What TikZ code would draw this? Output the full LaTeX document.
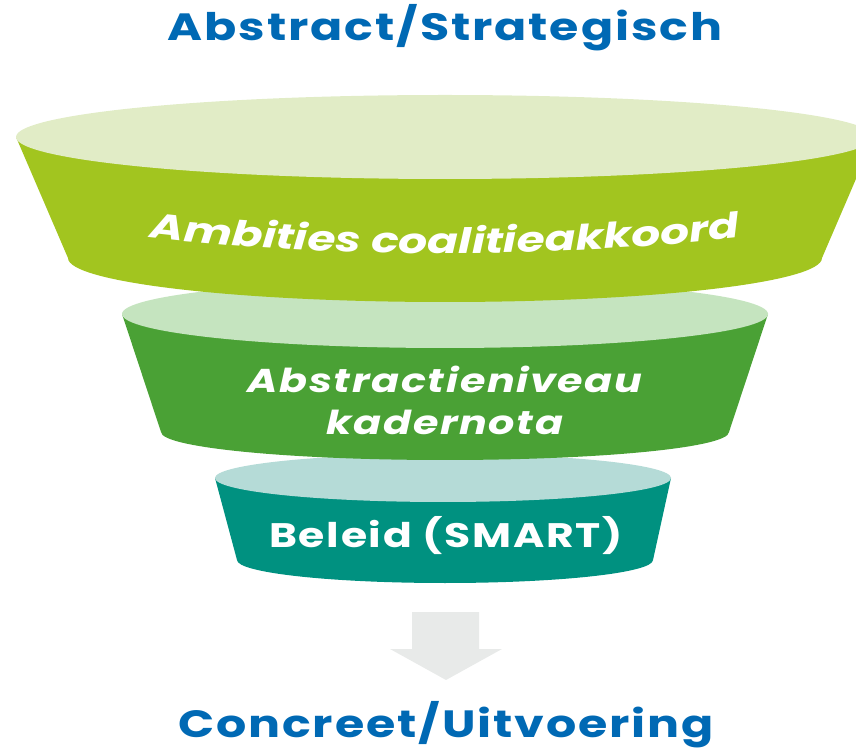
\documentclass[tikz,border=0pt]{standalone}
\usepackage{fontspec}
\newfontfamily\pop[FakeStretch=1.25, LetterSpace=5]{Poppins}
\newfontfamily\popc[FakeStretch=1.3]{Poppins}
\usetikzlibrary{decorations.text}
\definecolor{tblue}{RGB}{0,105,180}
\definecolor{topL}{RGB}{225,236,198}
\definecolor{topD}{RGB}{162,197,31}
\definecolor{midL}{RGB}{197,228,191}
\definecolor{midD}{RGB}{74,161,53}
\definecolor{botL}{RGB}{181,219,215}
\definecolor{botD}{RGB}{0,145,128}
\definecolor{arrowc}{RGB}{232,234,233}
\tikzset{
  title/.style={text=tblue, font=\pop\bfseries\fontsize{38}{40}\selectfont, inner sep=0pt, anchor=base},
  bowltext/.style={text=white, font=\pop\bfseries\itshape\fontsize{33}{42}\selectfont, align=center, inner sep=0pt},
}
\begin{document}
\begin{tikzpicture}[x=1pt,y=1pt]
\useasboundingbox (0,0) rectangle (856,750);
\begin{scope}
\clip (0,0) rectangle (856,750);
% bottom bowl
\fill[botD] (215,272) -- (237,190) arc[start angle=180,end angle=360,x radius=208,y radius=23] -- (671,272) -- cycle;
\fill[botL] (443,272) ellipse[x radius=228,y radius=24];
% middle bowl
\fill[midD] (122,436) -- (161,318) arc[start angle=180,end angle=360,x radius=284,y radius=28] -- (768,436) -- cycle;
\fill[midL] (445,436) ellipse[x radius=323,y radius=34];
% top bowl
\fill[topD] (16,613) -- (68,492) arc[start angle=180,end angle=360,x radius=377,y radius=44] -- (874,613) -- cycle;
\fill[topL] (445,613) ellipse[x radius=429,y radius=42];
\end{scope}
% arrow
\fill[arrowc] (412,138) -- (479,138) -- (479,101) -- (502,101) -- (446,70) -- (390,101) -- (412,101) -- cycle;
% titles
\node[title] (top) at (445,709) {Abstract/Strategisch};
\node[title] (bottom) at (446,13) {Concreet/Uitvoering};
% texts
\path[decorate, decoration={text along path, text align=center, text color=white,
  text={|\popc\bfseries\itshape\fontsize{35}{35}\selectfont|Ambities coalitieakkoord}}]
  (100,519) .. controls (315,489) and (575,489) .. (790,519);
\node[bowltext] (mid) at (445,350) {Abstractieniveau\\kadernota};
\node[bowltext, font=\pop\bfseries\fontsize{34}{36}\selectfont] (low) at (446,214) {Beleid (SMART)};
\end{tikzpicture}
\end{document}
